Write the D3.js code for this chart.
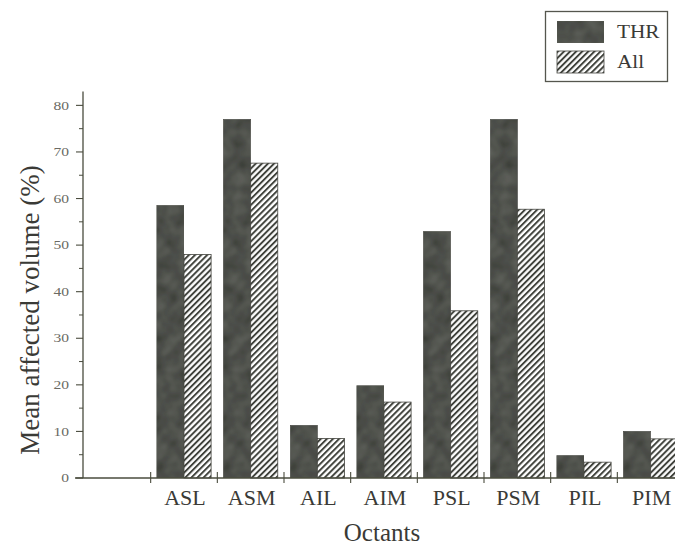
<!DOCTYPE html>
<html>
<head>
<meta charset="utf-8">
<script src="https://cdn.jsdelivr.net/npm/d3@7"></script>
<style>
  html, body { margin: 0; padding: 0; background: #fff; }
  svg { display: block; }
</style>
</head>
<body>
<svg id="chart" width="675" height="550"></svg>
<script>
// ---- data ----
const categories = ["ASL", "ASM", "AIL", "AIM", "PSL", "PSM", "PIL", "PIM"];
const seriesNames = ["THR", "All"];
const thrValues = [58.5, 77, 11.3, 19.8, 52.9, 77, 4.8, 10];
const allValues = [48, 67.6, 8.5, 16.3, 35.9, 57.7, 3.4, 8.4];
const yTicks = [0, 10, 20, 30, 40, 50, 60, 70, 80];
const yMinorTicks = [5, 15, 25, 35, 45, 55, 65, 75];

const svg = d3.select("#chart");
const font = "'Liberation Serif', 'DejaVu Serif', serif";
const axisColor = "#4a4c3e";
const textColor = "#3a3a36";

// defs: hatch and texture
const defs = svg.append("defs");
const hatch = defs.append("pattern")
  .attr("id", "hatch").attr("patternUnits", "userSpaceOnUse")
  .attr("width", 4.3).attr("height", 4.3)
  .attr("patternTransform", "rotate(45)");
hatch.append("rect").attr("width", 4.3).attr("height", 4.3).attr("fill", "#fff");
hatch.append("line").attr("x1", 1).attr("y1", 0).attr("x2", 1).attr("y2", 4.3)
  .attr("stroke", "#3a3c36").attr("stroke-width", 1.9);

const filt = defs.append("filter").attr("id", "grain")
  .attr("x", 0).attr("y", 0).attr("width", 1).attr("height", 1);
filt.append("feTurbulence").attr("type", "fractalNoise").attr("baseFrequency", 0.07)
  .attr("numOctaves", 2).attr("seed", 5).attr("result", "noise");
filt.append("feColorMatrix").attr("in", "noise").attr("type", "matrix")
  .attr("values", "0 0 0 0 0.36  0 0 0 0 0.37  0 0 0 0 0.34  0 0 0 0.26 0")
  .attr("result", "tint");
filt.append("feComposite").attr("in", "tint").attr("in2", "SourceGraphic")
  .attr("operator", "in").attr("result", "tintC");
filt.append("feMerge").selectAll("feMergeNode")
  .data(["SourceGraphic", "tintC"]).join("feMergeNode").attr("in", d => d);

// ---- scales ----
const slots = [""].concat(categories);
const x = d3.scaleBand().domain(slots).range([84, 684]).paddingInner(0).paddingOuter(0);
const xInner = d3.scaleBand().domain(seriesNames).range([0, x.bandwidth()]).paddingOuter(0.23).paddingInner(0);
const y = d3.scaleLinear().domain([0, 83]).range([478, 91.4]);

const fills = { THR: "#353831", All: "url(#hatch)" };

// ---- bars ----
const data = categories.map((c, i) => ({ c, THR: thrValues[i], All: allValues[i] }));
const groups = svg.append("g").selectAll("g").data(data).join("g")
  .attr("transform", d => `translate(${x(d.c)},0)`);
groups.selectAll("rect").data(d => seriesNames.map(s => ({ s, v: d[s] }))).join("rect")
  .attr("x", d => xInner(d.s))
  .attr("width", xInner.bandwidth())
  .attr("y", d => y(d.v))
  .attr("height", d => y(0) - y(d.v))
  .attr("fill", d => fills[d.s])
  .attr("filter", d => d.s === "THR" ? "url(#grain)" : null)
  .attr("stroke", "#44453f").attr("stroke-width", 0.8);

// ---- y axis ----
const yAxis = svg.append("g").attr("transform", "translate(83,0)");
yAxis.append("line").attr("x1", 0).attr("x2", 0).attr("y1", y(0)).attr("y2", y(83))
  .attr("stroke", axisColor).attr("stroke-width", 1.3);
yAxis.selectAll(".maj").data(yTicks).join("line").attr("class", "maj")
  .attr("x1", -7).attr("x2", 0).attr("y1", d => y(d)).attr("y2", d => y(d))
  .attr("stroke", axisColor).attr("stroke-width", 1.1);
yAxis.selectAll(".min").data(yMinorTicks).join("line").attr("class", "min")
  .attr("x1", -4).attr("x2", 0).attr("y1", d => y(d)).attr("y2", d => y(d))
  .attr("stroke", axisColor).attr("stroke-width", 1);
yAxis.selectAll("text").data(yTicks).join("text")
  .attr("transform", d => `translate(-14,${y(d)}) scale(1.3,1)`)
  .attr("dy", "0.35em")
  .attr("text-anchor", "end").attr("font-family", font).attr("font-size", 12)
  .attr("fill", "#6a6a64").text(d => d);

// ---- x axis ----
const xAxis = svg.append("g");
xAxis.append("line").attr("x1", 75).attr("x2", 675).attr("y1", y(0)).attr("y2", y(0))
  .attr("stroke", axisColor).attr("stroke-width", 1.3);
xAxis.selectAll(".tk").data(categories).join("line").attr("class", "tk")
  .attr("x1", d => x(d)).attr("x2", d => x(d))
  .attr("y1", y(0) - 6).attr("y2", y(0) + 5)
  .attr("stroke", axisColor).attr("stroke-width", 1.1);
xAxis.selectAll("text").data(categories).join("text")
  .attr("x", d => x(d) + x.bandwidth() / 2 + 1).attr("y", 505)
  .attr("text-anchor", "middle").attr("font-family", font).attr("font-size", 22)
  .attr("fill", textColor).text(d => d);

// ---- axis titles ----
svg.append("text").attr("x", 382).attr("y", 541).attr("text-anchor", "middle")
  .attr("font-family", font).attr("font-size", 25).attr("fill", textColor).text("Octants");
svg.append("text").attr("transform", "translate(39,310) rotate(-90)").attr("text-anchor", "middle")
  .attr("font-family", font).attr("font-size", 27).attr("fill", textColor)
  .text("Mean affected volume (%)");

// ---- legend ----
const legend = svg.append("g");
legend.append("rect").attr("x", 545.5).attr("y", 11.5).attr("width", 122).attr("height", 70)
  .attr("fill", "#fff").attr("stroke", "#55564e").attr("stroke-width", 1.3);
const leg = legend.selectAll("g").data(seriesNames).join("g")
  .attr("transform", (d, i) => `translate(557,${21 + i * 30})`);
leg.append("rect").attr("width", 47).attr("height", 22)
  .attr("fill", d => fills[d]).attr("filter", d => d === "THR" ? "url(#grain)" : null)
  .attr("stroke", "#44453f").attr("stroke-width", 0.8);
leg.append("text").attr("transform", "translate(60,17) scale(1.12,1)")
  .attr("font-family", font).attr("font-size", 19)
  .attr("fill", textColor).text(d => d);
</script>
</body>
</html>
